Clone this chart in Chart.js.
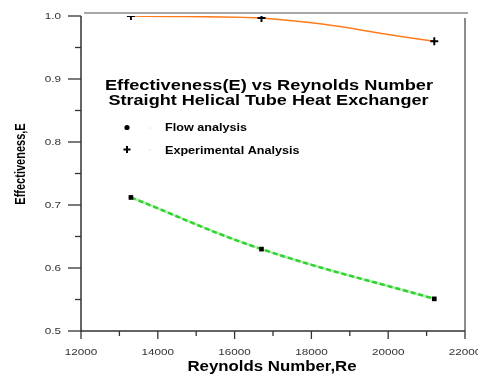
<!DOCTYPE html>
<html><head><meta charset="utf-8">
<script src="https://cdn.jsdelivr.net/npm/chart.js@4.4.1/dist/chart.umd.min.js"></script>
<style>html,body{margin:0;padding:0;background:#fff}#wrap{width:478px;height:374px}</style>
</head><body><div id="wrap"><canvas id="c" width="478" height="374"></canvas></div>
<script>
const reynolds = [13300, 16700, 21200];
const flowAnalysis = [0.712, 0.630, 0.551];
const experimental = [1.000, 0.997, 0.960];
const xTicks = [12000, 14000, 16000, 18000, 20000, 22000];
const xMinor = [13000, 15000, 17000, 19000, 21000];
const yTicks = [0.5, 0.6, 0.7, 0.8, 0.9, 1.0];
const yMinor = [0.55, 0.65, 0.75, 0.85, 0.95];
const titleLines = ['Effectiveness(E) vs Reynolds Number', 'Straight Helical Tube Heat Exchanger'];
const legendLabels = ['Flow analysis', 'Experimental Analysis'];
const xTitle = 'Reynolds Number,Re';
const yTitle = 'Effectiveness,E';

const pts = (ys) => reynolds.map((x, i) => ({x, y: ys[i]}));
const FONT = '"Liberation Sans", Arial, Helvetica, sans-serif';

function stretchedText(ctx, txt, x, y, font, sx, align, color) {
  ctx.save();
  ctx.font = font; ctx.fillStyle = color || '#000';
  ctx.textBaseline = 'alphabetic';
  const w = ctx.measureText(txt).width * sx;
  let left = x;
  if (align === 'center') left = x - w / 2;
  else if (align === 'right') left = x - w;
  ctx.translate(left, y); ctx.scale(sx, 1);
  ctx.textAlign = 'left';
  ctx.fillText(txt, 0, 0);
  ctx.restore();
}

const decor = {
  id: 'decor',
  beforeDatasetsDraw(chart) {
    const ctx = chart.ctx, xs = chart.scales.x, ys = chart.scales.y, a = chart.chartArea;
    ctx.save();
    ctx.strokeStyle = '#8a8a8a'; ctx.lineWidth = 1.6;
    ctx.beginPath(); ctx.moveTo(84, 13); ctx.lineTo(468, 13); ctx.stroke();
    ctx.strokeStyle = '#666'; ctx.lineWidth = 1.5;
    ctx.beginPath(); ctx.moveTo(a.right, 18); ctx.lineTo(a.right, a.bottom); ctx.stroke();
    ctx.strokeStyle = '#333'; ctx.lineWidth = 1.5;
    ctx.beginPath(); ctx.moveTo(a.left, a.top); ctx.lineTo(a.left, a.bottom); ctx.lineTo(a.right, a.bottom); ctx.stroke();
    ctx.lineWidth = 1.3;
    yTicks.forEach(v => { const p = ys.getPixelForValue(v); ctx.beginPath(); ctx.moveTo(a.left - 13, p); ctx.lineTo(a.left, p); ctx.stroke(); });
    yMinor.forEach(v => { const p = ys.getPixelForValue(v); ctx.beginPath(); ctx.moveTo(a.left - 6, p); ctx.lineTo(a.left, p); ctx.stroke(); });
    xTicks.forEach(v => { const p = xs.getPixelForValue(v); ctx.beginPath(); ctx.moveTo(p, a.bottom); ctx.lineTo(p, a.bottom + 8); ctx.stroke(); });
    xMinor.forEach(v => { const p = xs.getPixelForValue(v); ctx.beginPath(); ctx.moveTo(p, a.bottom); ctx.lineTo(p, a.bottom + 5); ctx.stroke(); });
    ctx.restore();
    yTicks.forEach(v => stretchedText(ctx, v.toFixed(1), 61, ys.getPixelForValue(v) + 3.3, '9px ' + FONT, 1.3, 'right', '#333'));
    xTicks.forEach(v => stretchedText(ctx, String(v), xs.getPixelForValue(v), 354.5, '9px ' + FONT, 1.3, 'center', '#333'));
    stretchedText(ctx, xTitle, 272, 371, 'bold 14.5px ' + FONT, 1.16, 'center', '#000');
    ctx.save();
    ctx.translate(24.5, 164); ctx.rotate(-Math.PI / 2); ctx.scale(1, 1.3);
    ctx.font = 'bold 11px ' + FONT; ctx.fillStyle = '#000'; ctx.textAlign = 'center'; ctx.textBaseline = 'alphabetic';
    ctx.fillText(yTitle, 0, 0);
    ctx.restore();
    stretchedText(ctx, titleLines[0], 269, 89.5, 'bold 15px ' + FONT, 1.215, 'center', '#000');
    stretchedText(ctx, titleLines[1], 268.5, 104.5, 'bold 15px ' + FONT, 1.205, 'center', '#000');
    ctx.save();
    ctx.fillStyle = '#000';
    ctx.beginPath(); ctx.arc(127, 127.5, 2.6, 0, Math.PI * 2); ctx.fill();
    ctx.fillRect(123.5, 148.5, 7, 2); ctx.fillRect(126, 146, 2, 7);
    ctx.strokeStyle = '#e4e4e4'; ctx.lineWidth = 1;
    ctx.beginPath(); ctx.moveTo(149, 128); ctx.lineTo(151, 128); ctx.stroke();
    ctx.beginPath(); ctx.moveTo(149, 150); ctx.lineTo(151, 150); ctx.stroke();
    ctx.restore();
    stretchedText(ctx, legendLabels[0], 165, 131, 'bold 10.5px ' + FONT, 1.2, 'left', '#000');
    stretchedText(ctx, legendLabels[1], 165, 153.5, 'bold 10.5px ' + FONT, 1.2, 'left', '#000');
  }
};

new Chart(document.getElementById('c'), {
  type: 'scatter',
  data: {
    datasets: [
      { data: pts(flowAnalysis), showLine: true, borderColor: '#b0f2b0', borderWidth: 2.5, tension: 0.4, pointRadius: 0, order: 3 },
      { data: pts(flowAnalysis), showLine: true, borderColor: '#2fd22f', borderWidth: 2.5, borderDash: [5, 3], tension: 0.4, order: 1,
        pointStyle: 'rect', pointRadius: 3.3, pointBackgroundColor: '#000', pointBorderColor: '#000', pointBorderWidth: 0 },
      { data: pts(experimental), showLine: true, borderColor: '#ff7a1a', borderWidth: 1.5, tension: 0.5, order: 0,
        pointStyle: 'cross', pointRadius: 4, pointBorderColor: '#000', pointBorderWidth: 2 }
    ]
  },
  options: {
    responsive: false, animation: false, devicePixelRatio: 1,
    layout: { padding: { left: 81, right: 13, top: 16, bottom: 43 } },
    plugins: { legend: { display: false }, tooltip: { enabled: false }, title: { display: false } },
    scales: {
      x: { type: 'linear', min: 12000, max: 22000, display: false },
      y: { type: 'linear', min: 0.5, max: 1.0, display: false }
    }
  },
  plugins: [decor]
});
</script></body></html>
